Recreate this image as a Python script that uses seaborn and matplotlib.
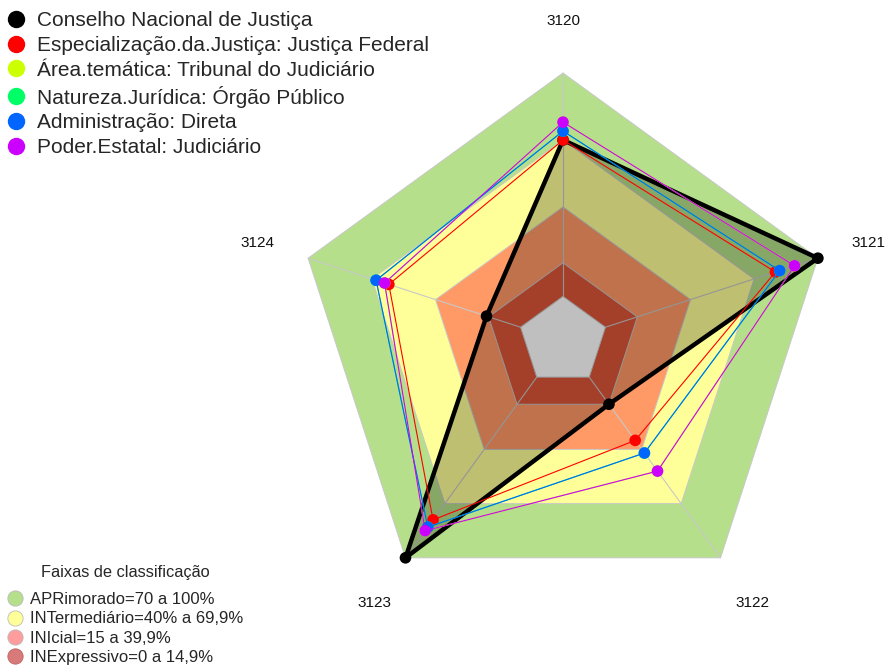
import numpy as np
import pandas as pd
import seaborn as sns
import matplotlib.pyplot as plt
from matplotlib.lines import Line2D

# axes of the radar (clockwise from top)
axis_labels = ['3120', '3121', '3122', '3123', '3124']

series_names = [
    'Conselho Nacional de Justiça',
    'Especialização.da.Justiça: Justiça Federal',
    'Área.temática: Tribunal do Judiciário',
    'Natureza.Jurídica: Órgão Público',
    'Administração: Direta',
    'Poder.Estatal: Judiciário',
]
cnj = [70, 100, 15, 100, 16]
justica_federal = [70, 80, 35, 79, 62]
tribunal_judiciario = [78, 89, 52, 85, 64]
orgao_publico = [74, 82, 42, 83, 68]
adm_direta = [74, 82, 42, 83, 68]
poder_judiciario = [78, 89, 52, 85, 64]
series_values = [cnj, justica_federal, tribunal_judiciario,
                 orgao_publico, adm_direta, poder_judiciario]
series_colors = ['black', '#FF0000', '#CCFF00', '#00FF66', '#0066FF', '#CC00FF']

# classification bands
band_labels = ['APRimorado=70 a 100%', 'INTermediário=40% a 69,9%',
               'INIcial=15 a 39,9%', 'INExpressivo=0 a 14,9%']
band_upper = [100, 70, 40, 15]
band_colors = ['#B5DF8A', '#FFFF99', '#FF9966', '#DC5538']
band_legend_colors = ['#B5DF8A', '#FFFF99', '#FF9C9C', '#D97A7A']

R = 268.0
n = len(axis_labels)
angles = np.pi / 2 - 2 * np.pi * np.arange(n) / n


def to_xy(values):
    # fmsb-like radial scale: value 0 sits at 1/6 of the radius
    r = R * (1 / 6 + 5 / 6 * np.asarray(values, dtype=float) / 100)
    return r * np.cos(angles), r * np.sin(angles)


def closed(df):
    return pd.concat([df, df.iloc[[0]]], ignore_index=True)


sns.set_theme(style='white')
plt.rcParams['font.family'] = ['Liberation Sans', 'DejaVu Sans']

fig = plt.figure(figsize=(8.89, 6.68), dpi=100)
ax = fig.add_axes([0, 0, 1, 1])
ax.set_xlim(-563, 889 - 563)
ax.set_ylim(-(668 - 341), 341)
ax.set_aspect('equal')
ax.axis('off')

# background bands
for up, col in zip(band_upper, band_colors):
    bx, by = to_xy([up] * n)
    ax.fill(bx, by, color=col, lw=0, zorder=1)
bx, by = to_xy([0] * n)
ax.fill(bx, by, color='white', lw=0, zorder=1)

# grid: band outlines and spokes
for lvl in [0, 15, 40, 70, 100]:
    gx, gy = to_xy([lvl] * n)
    ax.plot(np.append(gx, gx[0]), np.append(gy, gy[0]), color='#C8C8C8', lw=0.7, zorder=2)
x0, y0 = to_xy([0] * n)
x1, y1 = to_xy([100] * n)
for i in range(n):
    ax.plot([x0[i], x1[i]], [y0[i], y1[i]], color='#C8C8C8', lw=0.8, zorder=2)

# series
for k, (name, vals, col) in enumerate(zip(series_names, series_values, series_colors)):
    sx, sy = to_xy(vals)
    df = pd.DataFrame({'x': sx, 'y': sy})
    if k == 0:
        ax.fill(sx, sy, color='black', alpha=0.25, lw=0, zorder=3)
        lw, z = 3.2, 4
    else:
        lw, z = 0.8, 5 + k
    sns.lineplot(data=closed(df), x='x', y='y', sort=False, estimator=None,
                 color=col, lw=lw, ax=ax, zorder=z)
    sns.scatterplot(data=df, x='x', y='y', color=col, s=70, edgecolor='none',
                    ax=ax, zorder=z + 0.5)

# axis labels
lx, ly = to_xy([124] * n)
for i, lab in enumerate(axis_labels):
    ax.text(lx[i], ly[i], lab, ha='center', va='center_baseline', fontsize=11,
            color='#111111')

# legends
handles = [Line2D([], [], marker='o', ls='', markersize=11.5, markerfacecolor=c,
                  markeredgecolor=c) for c in series_colors]
leg1 = ax.legend(handles, series_names, loc='upper left', bbox_to_anchor=(-0.002, 0.996),
                 frameon=False, fontsize=15, handlelength=0.9, handletextpad=0.56,
                 labelspacing=0.28, borderaxespad=0.4, borderpad=0.0)
ax.add_artist(leg1)

band_handles = [Line2D([], [], marker='o', ls='', markersize=11, markerfacecolor=c,
                       markeredgecolor='#BBBBBB' if i < 3 else '#C06060', markeredgewidth=0.6)
                for i, c in enumerate(band_legend_colors)]
leg2 = ax.legend(band_handles, band_labels, loc='lower left', bbox_to_anchor=(0.005, 0.0),
                 frameon=False, fontsize=12, title='Faixas de classificação',
                 title_fontsize=11.8, handlelength=0.9, handletextpad=0.45,
                 labelspacing=0.26, borderaxespad=0.18, borderpad=0.0)
leg2._legend_box.sep = 9

fig.savefig('out.png', dpi=100)
